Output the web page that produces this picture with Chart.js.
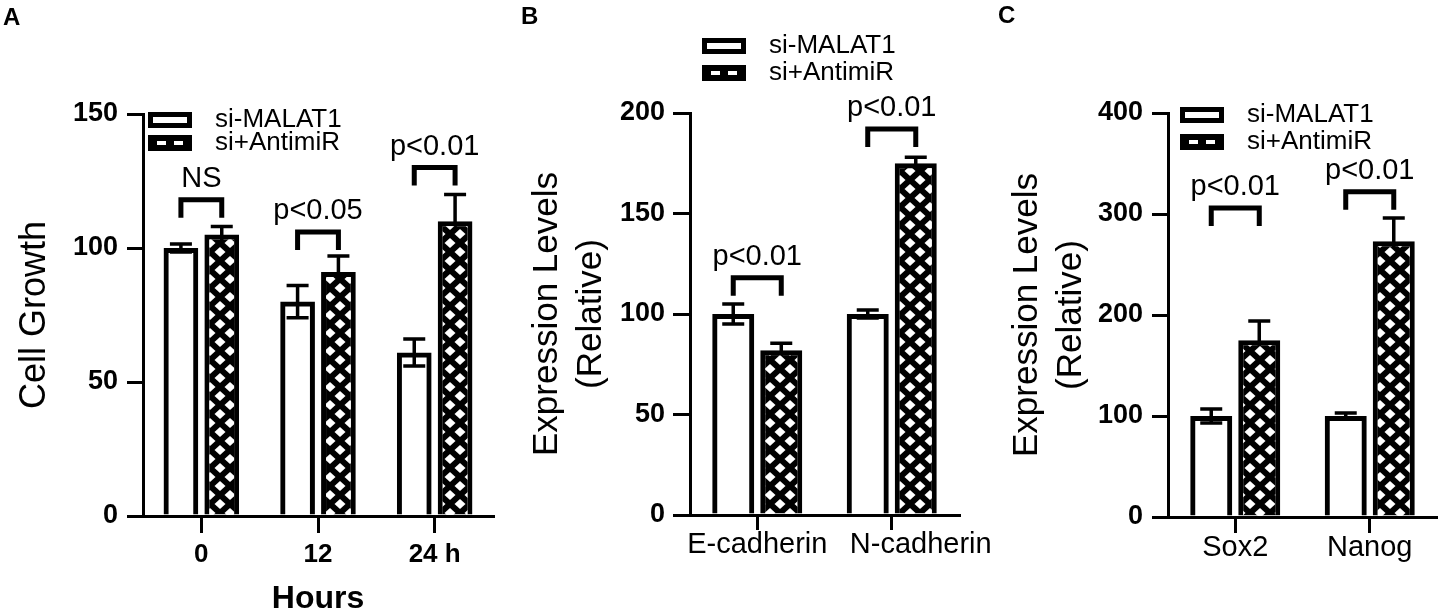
<!DOCTYPE html>
<html>
<head>
<meta charset="utf-8">
<title>MALAT1 knockdown panels</title>
<script src="https://cdn.jsdelivr.net/npm/chart.js@4.4.1/dist/chart.umd.min.js"></script>
<style>
  html, body { margin: 0; padding: 0; background: #fff; }
  #wrap { position: relative; width: 1438px; height: 614px; overflow: hidden;
          font-family: "Liberation Sans", Arial, sans-serif; }
  #wrap canvas { position: absolute; top: 0; }
  .tag { position: absolute; font-weight: bold; font-size: 24px; line-height: 1; color: #000; }
</style>
</head>
<body>
<div id="wrap">
  <canvas id="chartA" width="500" height="614" style="left:0px"></canvas>
  <canvas id="chartB" width="510" height="614" style="left:500px"></canvas>
  <canvas id="chartC" width="468" height="614" style="left:970px"></canvas>
  <div class="tag" style="left:3px;top:5px">A</div>
  <div class="tag" style="left:521px;top:4px">B</div>
  <div class="tag" style="left:998px;top:3px">C</div>
</div>
<script>
const seriesNames = ["si-MALAT1", "si+AntimiR"];

// A - cell growth
const hourLabels = ["0", "12", "24 h"];
const growthSi = [100, 80, 61];
const growthSiErr = [1.5, 6, 5];
const growthAnti = [105, 91, 110];
const growthAntiErr = [3, 6, 10];
const growthSig = ["NS", "p<0.05", "p<0.01"];
const growthSigAt = [118, 106, 130];

// B - cadherins
const cadherinLabels = ["E-cadherin", "N-cadherin"];
const cadherinSi = [100, 100];
const cadherinSiErr = [5, 2];
const cadherinAnti = [82, 175];
const cadherinAntiErr = [3.5, 3];
const cadherinSig = ["p<0.01", "p<0.01"];
const cadherinSigAt = [118, 192];

// C - stemness markers
const stemLabels = ["Sox2", "Nanog"];
const stemSi = [100, 100];
const stemSiErr = [7, 3];
const stemAnti = [175, 273];
const stemAntiErr = [19, 23];
const stemSig = ["p<0.01", "p<0.01"];
const stemSigAt = [306, 322];

const FONT = '"Liberation Sans", Arial, sans-serif';
Chart.defaults.font.family = FONT;
Chart.defaults.color = "#000";

// black fill with white diamonds (diamond lattice, seamless tile)
function makeHatch(ctx) {
  const c = document.createElement("canvas");
  c.width = 20;
  c.height = 18;
  const g = c.getContext("2d");
  g.fillStyle = "#000";
  g.fillRect(0, 0, 20, 18);
  g.fillStyle = "#fff";
  [[0, 0], [20, 0], [0, 18], [20, 18], [10, 9]].forEach(([cx, cy]) => {
    g.beginPath();
    g.moveTo(cx - 5.5, cy);
    g.lineTo(cx, cy - 5);
    g.lineTo(cx + 5.5, cy);
    g.lineTo(cx, cy + 5);
    g.closePath();
    g.fill();
  });
  return ctx.createPattern(c, "repeat");
}

// error bars drawn under the bars, so the hatched bars hide the lower half
const errorBars = {
  id: "errorBars",
  beforeDatasetsDraw(chart) {
    const { ctx } = chart;
    const y = chart.scales.y;
    ctx.save();
    ctx.strokeStyle = "#000";
    ctx.lineWidth = 3.5;
    chart.data.datasets.forEach((ds, di) => {
      chart.getDatasetMeta(di).data.forEach((bar, i) => {
        const top = y.getPixelForValue(ds.data[i] + ds.errors[i]);
        const bot = y.getPixelForValue(ds.data[i] - ds.errors[i]);
        ctx.beginPath();
        ctx.moveTo(bar.x, bot);
        ctx.lineTo(bar.x, top);
        ctx.moveTo(bar.x - 11, top);
        ctx.lineTo(bar.x + 11, top);
        ctx.moveTo(bar.x - 11, bot);
        ctx.lineTo(bar.x + 11, bot);
        ctx.stroke();
      });
    });
    ctx.restore();
  }
};

// significance brackets between the two bars of a group
const brackets = {
  id: "brackets",
  afterDatasetsDraw(chart, args, opts) {
    const { ctx } = chart;
    const y = chart.scales.y;
    const a = chart.getDatasetMeta(0).data;
    const b = chart.getDatasetMeta(1).data;
    ctx.save();
    ctx.strokeStyle = "#000";
    ctx.fillStyle = "#000";
    ctx.lineWidth = 5;
    ctx.lineJoin = "miter";
    ctx.font = "29px " + FONT;
    ctx.textAlign = "center";
    ctx.textBaseline = "middle";
    opts.at.forEach((v, i) => {
      const x1 = a[i].x, x2 = b[i].x;
      const yy = y.getPixelForValue(v);
      ctx.beginPath();
      ctx.moveTo(x1, yy + 18);
      ctx.lineTo(x1, yy);
      ctx.lineTo(x2, yy);
      ctx.lineTo(x2, yy + 18);
      ctx.stroke();
      ctx.fillText(opts.labels[i], (x1 + x2) / 2, yy - 21);
    });
    ctx.restore();
  }
};

// stacked legend with bar-like swatches
const pairLegend = {
  id: "pairLegend",
  afterDraw(chart, args, opts) {
    const { ctx } = chart;
    ctx.save();
    ctx.font = "26px " + FONT;
    ctx.textBaseline = "middle";
    ctx.textAlign = "left";
    chart.data.datasets.forEach((ds, i) => {
      const bx = opts.x, by = opts.y + i * opts.gap;
      ctx.fillStyle = "#000";
      ctx.fillRect(bx, by, 44, 16);
      ctx.fillStyle = "#fff";
      if (i === 0) {
        ctx.fillRect(bx + 5, by + 5, 34, 6);
      } else {
        ctx.fillRect(bx + 9, by + 6, 9, 4);
        ctx.fillRect(bx + 26, by + 6, 9, 4);
      }
      ctx.fillStyle = "#000";
      ctx.fillText(ds.label, bx + 67, by + 8);
    });
    ctx.restore();
  }
};

function makeChart(id, p) {
  const ctx = document.getElementById(id).getContext("2d");
  const hatch = makeHatch(ctx);
  return new Chart(ctx, {
    type: "bar",
    data: {
      labels: p.labels,
      datasets: [
        {
          label: seriesNames[0],
          data: p.si,
          errors: p.siErr,
          backgroundColor: "rgba(255,255,255,0)",
          borderColor: "#000",
          borderWidth: 5,
          categoryPercentage: p.catPct,
          barPercentage: p.barPct,
        },
        {
          label: seriesNames[1],
          data: p.anti,
          errors: p.antiErr,
          backgroundColor: hatch,
          borderColor: "#000",
          borderWidth: 5,
          categoryPercentage: p.catPct,
          barPercentage: p.barPct,
        },
      ],
    },
    options: {
      responsive: false,
      animation: false,
      events: [],
      layout: { padding: { left: 0, right: p.padRight, top: p.top, bottom: 0 } },
      plugins: {
        legend: { display: false },
        tooltip: { enabled: false },
        brackets: { labels: p.sig, at: p.sigAt },
        pairLegend: p.legend,
      },
      scales: {
        x: {
          grid: { offset: false, drawOnChartArea: false, color: "#000", lineWidth: 3, tickLength: p.xTick },
          border: { color: "#000", width: 3 },
          ticks: { color: "#000", padding: p.xPad, font: p.xFont,
                   autoSkip: false, minRotation: 0, maxRotation: 0,
                   callback: p.xLabel || function (v) { return this.getLabelForValue(v); } },
          title: p.xTitle,
          afterFit: (s) => { s.height = 614 - p.bottom; },
        },
        y: {
          min: 0,
          max: p.max,
          grid: { drawOnChartArea: false, color: "#000", lineWidth: 3, tickLength: p.yTick },
          border: { color: "#000", width: 3 },
          ticks: { stepSize: p.step, color: "#000", padding: p.yPad,
                   font: { size: 27, weight: "bold", lineHeight: 1 } },
          title: p.yTitle,
          afterFit: (s) => { s.width = p.left; },
        },
      },
    },
    plugins: [errorBars, brackets, pairLegend],
  });
}

makeChart("chartA", {
  labels: hourLabels, si: growthSi, siErr: growthSiErr, anti: growthAnti, antiErr: growthAntiErr,
  sig: growthSig, sigAt: growthSigAt, max: 150, step: 50,
  left: 143, padRight: 7, top: 114, bottom: 516,
  catPct: 0.7, barPct: 0.85,
  xTick: 17, xPad: 9, xFont: { size: 26, weight: "bold", lineHeight: 1 },
  yTick: 16, yPad: 9,
  xTitle: { display: true, text: "Hours", color: "#000", padding: 0,
            font: { size: 32, weight: "bold", lineHeight: 0.9 } },
  yTitle: { display: true, text: "Cell Growth", color: "#000", padding: { top: 13, bottom: 0 },
            font: { size: 36, lineHeight: 1.2 } },
  legend: { x: 148, y: 112, gap: 23 },
});

makeChart("chartB", {
  labels: cadherinLabels, si: cadherinSi, siErr: cadherinSiErr, anti: cadherinAnti, antiErr: cadherinAntiErr,
  sig: cadherinSig, sigAt: cadherinSigAt, max: 200, step: 50,
  left: 190, padRight: 51, top: 113, bottom: 515,
  catPct: 0.714, barPct: 0.875,
  xTick: 15, xPad: 0, xFont: { size: 29, lineHeight: 1 },
  // the second label sits a little right of its tick, as in the figure
  xLabel: function (v, i) { const t = this.getLabelForValue(v); return i === 1 ? "\u2003\u2003" + t : t; },
  yTick: 17, yPad: 8,
  xTitle: { display: false },
  yTitle: { display: true, text: ["Expression Levels", "(Relative)"], color: "#000",
            padding: { top: 25, bottom: 0 }, font: { size: 35, lineHeight: 1.26 } },
  legend: { x: 202, y: 38, gap: 27 },
});

makeChart("chartC", {
  labels: stemLabels, si: stemSi, siErr: stemSiErr, anti: stemAnti, antiErr: stemAntiErr,
  sig: stemSig, sigAt: stemSigAt, max: 400, step: 100,
  left: 198, padRight: 1, top: 113, bottom: 517,
  catPct: 0.714, barPct: 0.875,
  xTick: 16, xPad: 0, xFont: { size: 29, lineHeight: 1 },
  yTick: 16, yPad: 9,
  xTitle: { display: false },
  yTitle: { display: true, text: ["Expression Levels", "(Relative)"], color: "#000",
            padding: { top: 35, bottom: 0 }, font: { size: 35, lineHeight: 1.26 } },
  legend: { x: 210, y: 107, gap: 27 },
});
</script>
</body>
</html>
